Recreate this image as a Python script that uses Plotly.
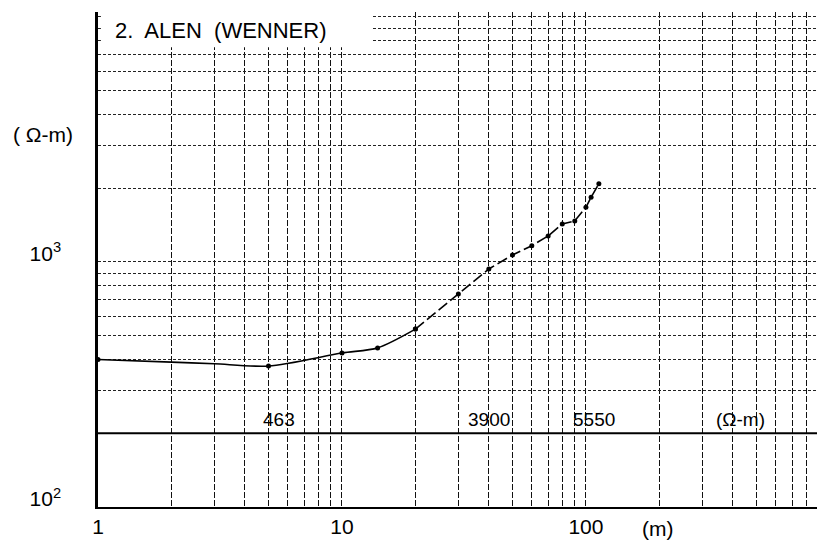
import math
import plotly.graph_objects as go

# sondage électrique 2, dispositif Wenner
# tracé continu de la courbe (1 m -> 20 m)
ab_curve = [1, 2, 3, 5, 10, 14, 20]
rho_curve = [400, 390, 384, 376, 425, 446, 532]

# points de mesure
ab_pts = [1, 5, 10, 14, 20]
rho_pts = [400, 376, 425, 446, 532]

# partie en tirets (20 m -> fin)
ab_dash = [20, 30, 40, 50, 60, 70, 80, 90, 100, 105, 113]
rho_dash = [532, 740, 936, 1067, 1165, 1276, 1429, 1470, 1671, 1835, 2085]

# résistivités des couches interprétées
layer_text = ["463", "3900", "5550", "(Ω-m)"]
layer_ab = [5.5, 40, 108, 430]
baseline_rho = 200

# grille log
x_grid = [m * 10 ** k for k in range(3) for m in range(1, 10)]
x_text = ["1" if v == 1 else "10" if v == 10 else "100" if v == 100 else "" for v in x_grid]
y_grid = [m * 10 ** k for k in range(2, 4) for m in range(1, 10)] + [10000]
y_text = ["10<sup>2</sup>" if v == 100 else "10<sup>3</sup>" if v == 1000 else "" for v in y_grid]

font_main = "Liberation Sans, Arial, sans-serif"

fig = go.Figure()

fig.add_trace(go.Scatter(
    x=ab_curve, y=rho_curve, mode="lines",
    line=dict(color="black", width=1.6, shape="spline", smoothing=0.8),
    showlegend=False))

fig.add_trace(go.Scatter(
    x=ab_pts, y=rho_pts, mode="markers",
    marker=dict(color="black", size=5),
    showlegend=False))

fig.add_trace(go.Scatter(
    x=ab_dash, y=rho_dash, mode="lines+markers",
    line=dict(color="black", width=1.6, dash="11px,4px"),
    marker=dict(color="black", size=5),
    showlegend=False))

fig.add_hline(y=baseline_rho, line=dict(color="black", width=2))

# sur axe log les annotations prennent le log10
for txt, xv in zip(layer_text, layer_ab):
    fig.add_annotation(x=math.log10(xv), y=math.log10(baseline_rho), xref="x", yref="y",
                       text=txt, showarrow=False, yanchor="bottom", yshift=1,
                       font=dict(family=font_main, size=19, color="black"))

# cartouche du titre (masque la grille en haut à gauche)
fig.add_shape(type="rect", xref="x domain", yref="y domain",
              x0=0.004, x1=0.377, y0=0.929, y1=1.0,
              fillcolor="white", line=dict(width=0), layer="above")

fig.add_annotation(x=0.021, y=0.962, xref="x domain", yref="y domain",
                   text="2.  ALEN  (WENNER)", showarrow=False,
                   xanchor="left", yanchor="middle",
                   font=dict(family=font_main, size=22, color="black"))

fig.add_annotation(x=-0.076, y=0.752, xref="paper", yref="paper",
                   xanchor="center", yanchor="middle",
                   text="( Ω-m)", showarrow=False,
                   font=dict(family=font_main, size=21, color="black"))
fig.add_annotation(x=math.log10(197), y=-0.043, xref="x", yref="paper",
                   xanchor="center", yanchor="middle",
                   text="(m)", showarrow=False,
                   font=dict(family=font_main, size=21, color="black"))

fig.update_xaxes(
    type="log", range=[0, 2.98], automargin=False,
    tickmode="array", tickvals=x_grid, ticktext=x_text,
    ticks="", ticklabelstandoff=0,
    tickfont=dict(family=font_main, size=21, color="black"),
    showgrid=True, gridcolor="#111", gridwidth=1.2, griddash="6px,2px",
    showline=True, linecolor="black", linewidth=1.5,
    zeroline=False)

fig.update_yaxes(
    type="log", range=[2, 4.02], automargin=False,
    tickmode="array", tickvals=y_grid, ticktext=y_text,
    ticks="", ticklabelstandoff=30, ticklabelshift=-8,
    tickfont=dict(family=font_main, size=21, color="black"),
    showgrid=True, gridcolor="#222", gridwidth=1, griddash="3px,2px",
    showline=True, linecolor="black", linewidth=2.5,
    zeroline=False)

# la page ajoute 8 px de marge autour du graphique
fig.update_layout(
    width=825, height=550,
    margin=dict(l=90, r=8, t=4, b=51),
    paper_bgcolor="white", plot_bgcolor="white",
    showlegend=False)

fig.write_html("out.html")
